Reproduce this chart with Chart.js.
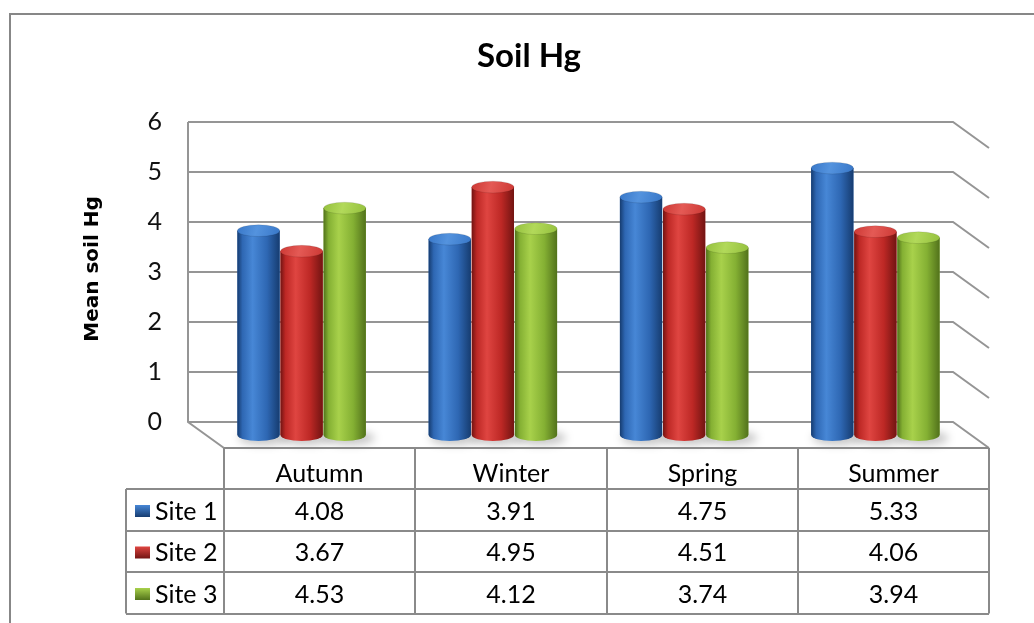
<!DOCTYPE html>
<html>
<head>
<meta charset="utf-8">
<title>Soil Hg</title>
<script src="https://cdn.jsdelivr.net/npm/chart.js@4.4.1/dist/chart.umd.min.js"></script>
<style>
  html, body { margin: 0; padding: 0; background: #ffffff; }
  #wrap { width: 1034px; height: 623px; position: relative; }
</style>
</head>
<body>
<div id="wrap"><canvas id="chart" width="1034" height="623"></canvas></div>
<script>
// ---- data ----
const seasons = ['Autumn', 'Winter', 'Spring', 'Summer'];
const seriesNames = ['Site 1', 'Site 2', 'Site 3'];
const site1 = [4.08, 3.91, 4.75, 5.33];
const site2 = [3.67, 4.95, 4.51, 4.06];
const site3 = [4.53, 4.12, 3.74, 3.94];
const yTicks = [0, 1, 2, 3, 4, 5, 6];
const chartTitle = 'Soil Hg';
const yTitle = 'Mean soil Hg';

// ---- styling ----
const palettes = [
  { dark: '#163c70', mid: '#2e67b3', light: '#4787d6', cap: '#3877c8', capLight: '#5493de' },
  { dark: '#721412', mid: '#bd2825', light: '#df4541', cap: '#cc3834', capLight: '#e45a55' },
  { dark: '#52721b', mid: '#84b033', light: '#a8d14b', cap: '#94c03d', capLight: '#b2d95a' }
];
const DX = 18, DY = 13;           // half of the 3D depth offset
const TABLE_FONT = '25px Lato';
const GRID_COLOR = '#959595';
const TABLE_LINE = '#8a8a8a';

function hGrad(ctx, l, r, p) {
  const g = ctx.createLinearGradient(l, 0, r, 0);
  g.addColorStop(0, p.dark);
  g.addColorStop(0.12, p.mid);
  g.addColorStop(0.36, p.light);
  g.addColorStop(0.7, p.mid);
  g.addColorStop(1, p.dark);
  return g;
}

// 3D frame (back wall, side wall lines, floor), border, titles
const framePlugin = {
  id: 'frame3d',
  beforeDraw(chart) {
    const { ctx, chartArea: a, scales: { y } } = chart;
    ctx.save();
    // outer chart border
    ctx.strokeStyle = '#878787';
    ctx.lineWidth = 2;
    ctx.beginPath();
    ctx.moveTo(10, 640); ctx.lineTo(10, 14); ctx.lineTo(1040, 14);
    ctx.stroke();

    const bl = a.left - DX, br = a.right - DX;
    ctx.strokeStyle = GRID_COLOR;
    ctx.lineWidth = 2;
    yTicks.forEach(v => {
      const py = Math.round(y.getPixelForValue(v) - DY);
      ctx.beginPath();
      ctx.moveTo(bl, py);
      ctx.lineTo(br, py);
      ctx.lineTo(br + 2 * DX, py + 2 * DY);
      ctx.stroke();
    });
    const wTop = Math.round(y.getPixelForValue(yTicks[yTicks.length - 1]) - DY);
    const wBot = Math.round(y.getPixelForValue(0) - DY);
    ctx.beginPath();
    ctx.moveTo(bl, wTop); ctx.lineTo(bl, wBot); ctx.lineTo(bl + 2 * DX, wBot + 2 * DY);
    ctx.stroke();

    // chart title
    ctx.fillStyle = '#000';
    ctx.font = 'bold 33px Lato';
    ctx.textAlign = 'center';
    ctx.textBaseline = 'alphabetic';
    ctx.fillText(chartTitle, 529, 67);

    // value axis title
    ctx.save();
    ctx.translate(98, 269);
    ctx.rotate(-Math.PI / 2);
    ctx.font = 'bold 20px "DejaVu Sans"';
    ctx.fillText(yTitle, 0, 0);
    ctx.restore();
    ctx.restore();
  },
  beforeDatasetsDraw(chart) {
    // soft floor shadows under the cylinders
    const { ctx } = chart;
    ctx.save();
    ctx.filter = 'blur(4px)';
    ctx.fillStyle = 'rgba(0,0,0,0.22)';
    chart.data.datasets.forEach((ds, di) => {
      chart.getDatasetMeta(di).data.forEach(el => {
        const { x, base, width } = el.getProps(['x', 'base', 'width'], true);
        ctx.beginPath();
        ctx.ellipse(x + 5, base + 3, width / 2 + 4, 7, 0, 0, Math.PI * 2);
        ctx.fill();
      });
    });
    ctx.restore();
  },
  afterDatasetsDraw(chart) {
    // shade each bar as a cylinder using the bar element geometry
    const { ctx } = chart;
    ctx.save();
    chart.data.datasets.forEach((ds, di) => {
      const p = palettes[di];
      chart.getDatasetMeta(di).data.forEach(el => {
        const { x, y: top, base, width } = el.getProps(['x', 'y', 'base', 'width'], true);
        const l = x - width / 2, r = x + width / 2;
        const rx = width / 2, ry = width * 0.14;
        ctx.fillStyle = hGrad(ctx, l, r, p);
        ctx.beginPath();
        ctx.moveTo(l, top);
        ctx.lineTo(l, base);
        ctx.ellipse(x, base, rx, ry, 0, Math.PI, 0, true);
        ctx.lineTo(r, top);
        ctx.closePath();
        ctx.fill();
        // top cap
        const cg = ctx.createLinearGradient(l, top - ry, r, top + ry);
        cg.addColorStop(0, p.cap);
        cg.addColorStop(0.45, p.capLight);
        cg.addColorStop(1, p.cap);
        ctx.fillStyle = cg;
        ctx.beginPath();
        ctx.ellipse(x, top, rx, ry, 0, 0, Math.PI * 2);
        ctx.fill();
        ctx.strokeStyle = 'rgba(0,0,0,0.1)';
        ctx.lineWidth = 1;
        ctx.stroke();
      });
    });
    ctx.restore();
  },
  afterDraw(chart) {
    // data table below the plot, aligned with the category scale
    const { ctx, scales: { x, y } } = chart;
    const tTop = Math.round(y.getPixelForValue(0) + DY);
    const hdrH = 41, rowH = 41.5;
    const edges = seasons.map((_, i) => Math.round(x.getPixelForValue(i - 0.5) + DX));
    edges.push(Math.round(x.getPixelForValue(seasons.length - 0.5) + DX));
    const labelLeft = 126;
    const rowsTop = tTop + hdrH;
    const bottom = rowsTop + rowH * seriesNames.length;

    ctx.save();
    ctx.strokeStyle = TABLE_LINE;
    ctx.lineWidth = 2;
    ctx.beginPath();
    ctx.moveTo(edges[0], tTop); ctx.lineTo(edges[edges.length - 1], tTop);
    for (let r = 0; r <= seriesNames.length; r++) {
      const ry = Math.round(rowsTop + r * rowH);
      ctx.moveTo(labelLeft, ry); ctx.lineTo(edges[edges.length - 1], ry);
    }
    edges.forEach(ex => { ctx.moveTo(ex, tTop); ctx.lineTo(ex, bottom); });
    ctx.moveTo(labelLeft, rowsTop); ctx.lineTo(labelLeft, bottom);
    ctx.stroke();

    ctx.fillStyle = '#000';
    ctx.font = TABLE_FONT;
    ctx.textBaseline = 'alphabetic';
    ctx.textAlign = 'center';
    seasons.forEach((s, i) => ctx.fillText(s, (edges[i] + edges[i + 1]) / 2, tTop + 34));

    chart.data.datasets.forEach((ds, di) => {
      const rTop = rowsTop + di * rowH;
      const base = rTop + rowH - 11;
      ctx.textAlign = 'center';
      ctx.fillStyle = '#000';
      ds.data.forEach((v, i) => ctx.fillText(v.toFixed(2), (edges[i] + edges[i + 1]) / 2, base));
      // legend key
      const p = palettes[di];
      const kx = 135, ky = rTop + 16, kw = 15, kh = 12;
      const kg = ctx.createLinearGradient(kx, ky, kx, ky + kh);
      kg.addColorStop(0, p.light);
      kg.addColorStop(1, p.dark);
      ctx.fillStyle = kg;
      ctx.fillRect(kx, ky, kw, kh);
      ctx.fillStyle = '#000';
      ctx.textAlign = 'left';
      ctx.fillText(ds.label, 155, base);
    });
    ctx.restore();
  }
};

function build() {
  const datasets = [site1, site2, site3].map((vals, i) => ({
    label: seriesNames[i],
    data: vals,
    backgroundColor: palettes[i].mid,
    borderWidth: 0
  }));
  new Chart(document.getElementById('chart'), {
    type: 'bar',
    data: { labels: seasons, datasets },
    options: {
      responsive: false,
      animation: false,
      devicePixelRatio: 1,
      layout: { padding: { left: 0, top: 134.5, right: 63, bottom: 188 } },
      datasets: { bar: { categoryPercentage: 0.676, barPercentage: 0.98 } },
      plugins: {
        legend: { display: false },
        title: { display: false },
        tooltip: { enabled: false }
      },
      scales: {
        x: { display: false, offset: true, grid: { display: false } },
        y: {
          min: 0, max: 6,
          afterFit(s) { s.width = 206; },
          afterBuildTicks(s) { s.ticks = yTicks.map(v => ({ value: v })); },
          grid: { display: false, drawTicks: false },
          border: { display: false },
          ticks: {
            padding: 44,
            labelOffset: -13,
            color: '#111',
            font: { family: 'Lato', size: 25 }
          }
        }
      }
    },
    plugins: [framePlugin]
  });
}

const fontLoads = ['25px Lato', 'bold 33px Lato', 'bold 20px "DejaVu Sans"']
  .map(f => document.fonts.load(f).catch(() => null));
Promise.all(fontLoads).then(build, build);
</script>
</body>
</html>
